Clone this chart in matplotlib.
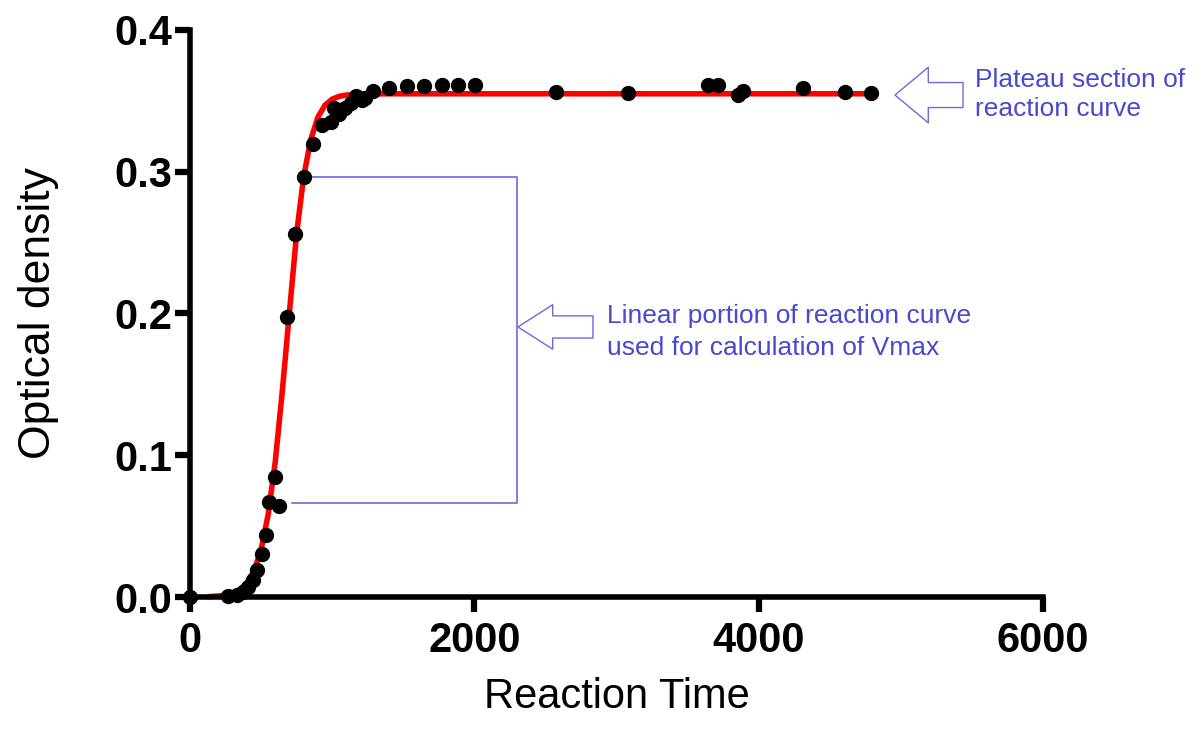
import matplotlib
matplotlib.use("Agg")
import matplotlib.pyplot as plt

# measured points
time = [0, 267, 330, 373, 408, 443, 471, 506, 535, 556, 598, 626, 682, 739, 800,
        865, 928, 992, 1013, 1048, 1090, 1132, 1168, 1210, 1231, 1287, 1400, 1526,
        1646, 1773, 1885, 2005, 2574, 3081, 3644, 3714, 3855, 3890, 4312, 4607, 4790]
od = [0.0, 0.0007, 0.0014, 0.0035, 0.007, 0.012, 0.019, 0.030, 0.044, 0.067, 0.085,
      0.064, 0.1975, 0.256, 0.296, 0.3196, 0.333, 0.335, 0.345, 0.341, 0.345, 0.3485,
      0.3535, 0.3506, 0.352, 0.357, 0.359, 0.3605, 0.3605, 0.361, 0.361, 0.361,
      0.3563, 0.3556, 0.361, 0.361, 0.354, 0.357, 0.359, 0.3563, 0.3556]

# fitted curve
fit_time = [140, 200, 250, 300, 350, 400, 450, 500, 550, 600, 650, 700, 750, 800,
            850, 900, 950, 1000, 1050, 1100, 1200, 1400, 4800]
fit_od = [0.0003, 0.0007, 0.0014, 0.0027, 0.0052, 0.0099, 0.0184, 0.0334, 0.0582,
          0.0957, 0.146, 0.2015, 0.2564, 0.2968, 0.3228, 0.3386, 0.3470, 0.3512,
          0.3532, 0.3541, 0.3547, 0.3550, 0.3550]

x_ticks = [0, 2000, 4000, 6000]
y_ticks = [0.0, 0.1, 0.2, 0.3, 0.4]

plt.rcParams["font.family"] = ["Liberation Sans", "DejaVu Sans"]
text_blue = "#4848D0"
line_blue = "#6A6AE0"

fig = plt.figure(figsize=(12.01, 7.31), dpi=100)
ax = fig.add_axes([0.1582, 0.1833, 0.7102, 0.7757])

ax.plot(fit_time, fit_od, color="red", lw=4, clip_on=False, zorder=2)
ax.plot(time, od, "o", color="black", ms=10, clip_on=False, zorder=3)

# bracket around the linear part
ax.plot([809, 2300, 2300, 717], [0.2963, 0.2963, 0.0663, 0.0663],
        color=line_blue, lw=1.2, zorder=1)

arrow_kw = dict(fc="white", ec=line_blue, lw=1.0, shrinkA=0, shrinkB=0)
ax.annotate("", xy=(2307, 0.1905), xytext=(54, 0), textcoords="offset points",
            arrowprops=dict(arrowstyle="simple,head_length=25,head_width=32,tail_width=16",
                            mutation_scale=1, **arrow_kw))
ax.annotate("", xy=(4959, 0.3541), xytext=(49, 0), textcoords="offset points",
            arrowprops=dict(arrowstyle="simple,head_length=24,head_width=40,tail_width=18",
                            mutation_scale=1, **arrow_kw), annotation_clip=False)

ax.text(2933, 0.187, "Linear portion of reaction curve\nused for calculation of Vmax",
        color=text_blue, fontsize=19, ha="left", va="center", linespacing=1.45)
ax.text(5522, 0.3545, "Plateau section of\nreaction curve",
        color=text_blue, fontsize=19, ha="left", va="center", linespacing=1.3,
        clip_on=False)

ax.set_xlim(0, 6000)
ax.set_ylim(0, 0.4)
ax.set_xticks(x_ticks)
ax.set_xticklabels([str(t) for t in x_ticks])
ax.set_yticks(y_ticks)
ax.set_yticklabels([f"{t:.1f}" for t in y_ticks])

for side in ["top", "right"]:
    ax.spines[side].set_visible(False)
for side in ["left", "bottom"]:
    ax.spines[side].set_linewidth(4)
    ax.spines[side].set_capstyle("projecting")

ax.tick_params(width=4.5, length=11, labelsize=30)
ax.tick_params(axis="x", pad=6)
ax.tick_params(axis="y", pad=2)
for lab in ax.get_xticklabels() + ax.get_yticklabels():
    lab.set_fontweight("bold")

ax.set_xlabel("Reaction Time", fontsize=30, labelpad=12)
ax.set_ylabel("Optical density", fontsize=32, labelpad=40)

fig.savefig("out.png", dpi=100)
